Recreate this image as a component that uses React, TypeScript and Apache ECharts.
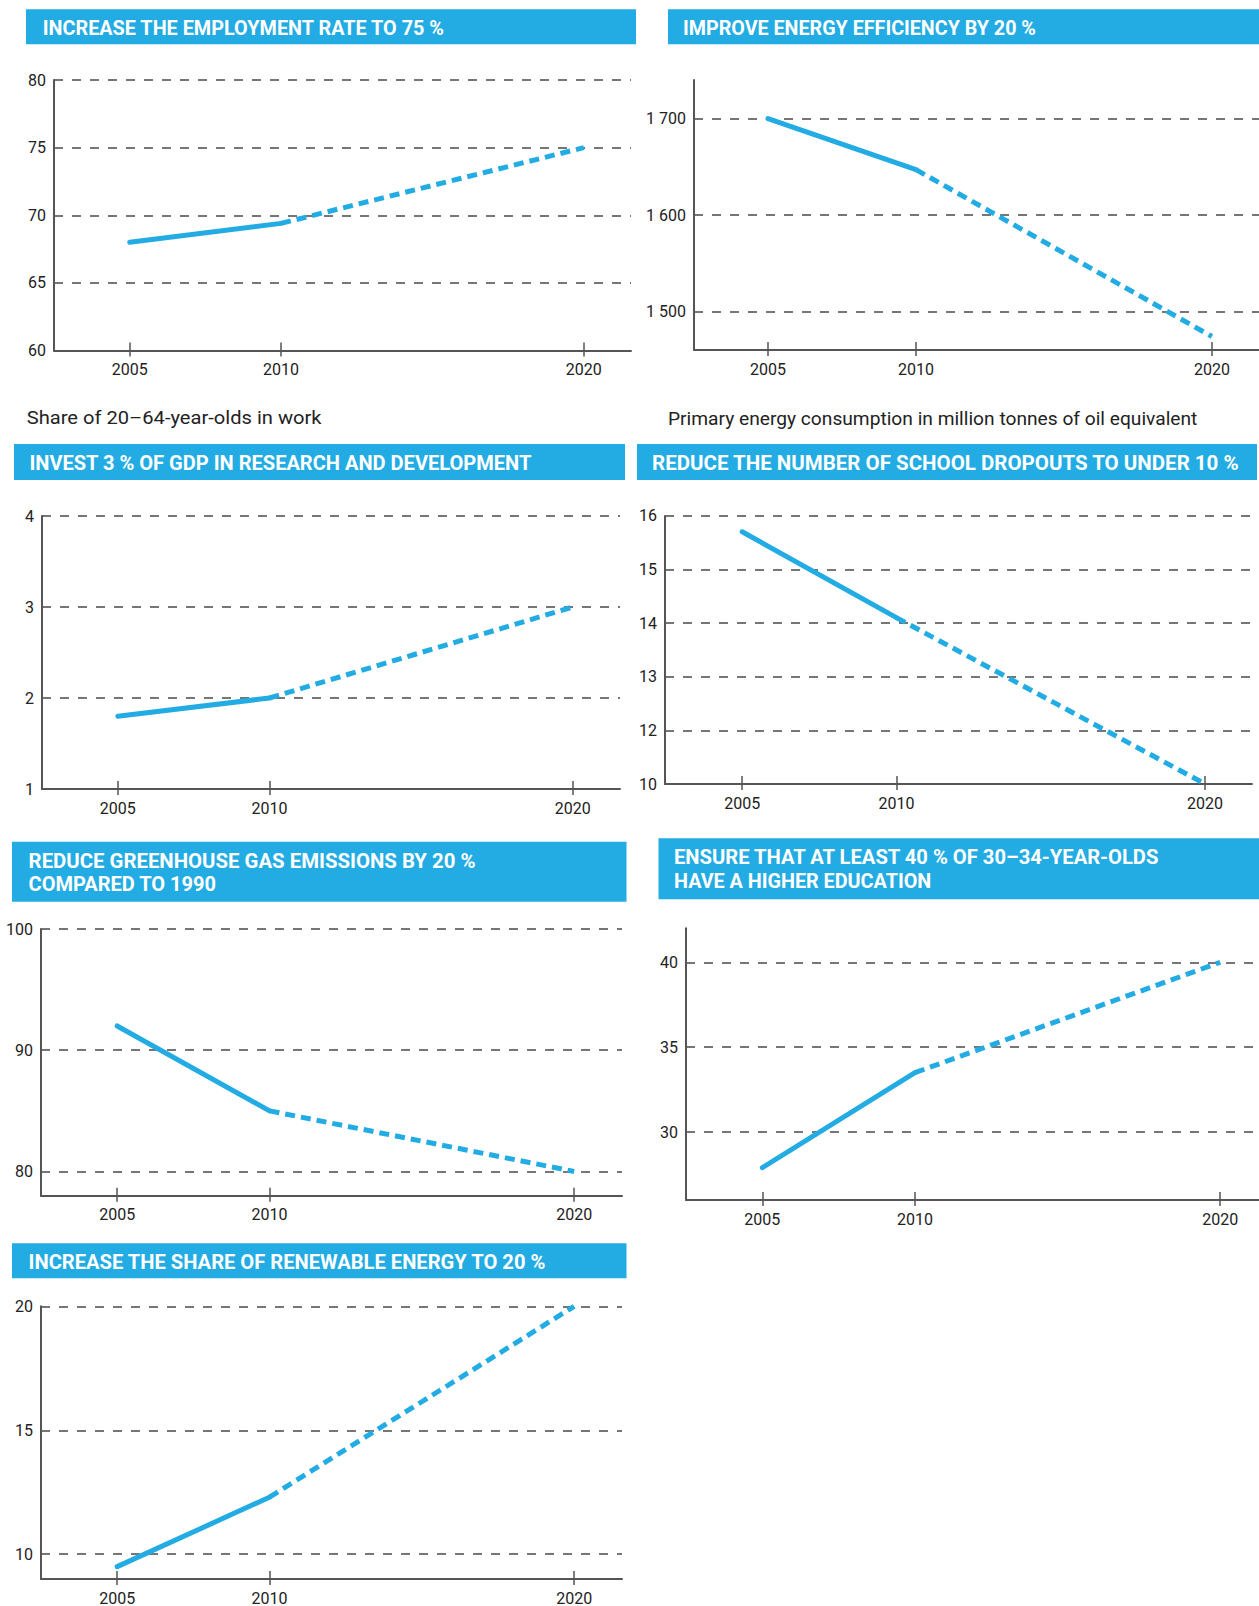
import React, { useEffect, useRef } from "react";
import * as echarts from "echarts";

// ---------- data ----------
const YEARS = [2005, 2010, 2020];
const X_TICKS = [2005, 2010, 2020];

const employmentRate = [68, 69.4, 75];
const energyConsumption = [1700, 1647, 1474];
const rndShare = [1.8, 2.0, 3.0];
const schoolDropouts = [15.7, 14.1, 10];
const ghgEmissions = [92, 85, 80];
const higherEducation = [27.9, 33.5, 40];
const renewableShare = [9.5, 12.3, 20];

// the dropouts axis in the original skips 11 (10 sits one step below 12)
const DROPOUT_AXIS_BREAK = [{ start: 10, end: 11, gap: 0 }];

const TITLE_EMPLOYMENT = ["INCREASE THE EMPLOYMENT RATE TO 75 %"];
const TITLE_ENERGY = ["IMPROVE ENERGY EFFICIENCY BY 20 %"];
const TITLE_RND = ["INVEST 3 % OF GDP IN RESEARCH AND DEVELOPMENT"];
const TITLE_DROPOUTS = ["REDUCE THE NUMBER OF SCHOOL DROPOUTS TO UNDER 10 %"];
const TITLE_GHG = ["REDUCE GREENHOUSE GAS EMISSIONS BY 20 %", "COMPARED TO 1990"];
const TITLE_EDUCATION = ["ENSURE THAT AT LEAST 40 % OF 30–34-YEAR-OLDS", "HAVE A HIGHER EDUCATION"];
const TITLE_RENEWABLE = ["INCREASE THE SHARE OF RENEWABLE ENERGY TO 20 %"];

const SUBTITLE_EMPLOYMENT = "Share of 20–64-year-olds in work";
const SUBTITLE_ENERGY = "Primary energy consumption in million tonnes of oil equivalent";

// ---------- styling / layout ----------
const BLUE = "#23ace3";
const AXIS_COLOR = "#555555";
const GRID_COLOR = "#767676";
const LABEL_COLOR = "#222222";
const FONT = "Roboto";

const thousands = (v: number) => String(v).replace(/\B(?=(\d{3})+(?!\d))/g, " ");
const plain = (v: number) => (Number.isInteger(v) ? String(v) : "");
const dropoutFmt = (v: number) => (Number.isInteger(v) && v !== 11 ? String(v) : "");

const PANELS: any[] = [
  {
    values: employmentRate, title: TITLE_EMPLOYMENT,
    grid: { left: 54, top: 80, width: 577, height: 270.5 }, xMax: 2021.56,
    y: { min: 60, max: 80, interval: 5 }, maxLine: true, minLabel: true, maxLabel: true,
    bar: { x: 26, y: 9.3, w: 610, h: 35 }, titleX: 42.7, titleY: [28], titleW: [403],
    sub: { text: SUBTITLE_EMPLOYMENT, x: 26.7, y: 418, w: 295 }, fmt: plain,
  },
  {
    values: energyConsumption, title: TITLE_ENERGY,
    grid: { left: 694, top: 80, width: 565, height: 270 }, xMax: 2021.59,
    y: { min: 1460, max: 1740, splitNumber: 3 }, maxLine: false, minLabel: false, maxLabel: false,
    bar: { x: 668, y: 9.3, w: 591, h: 35 }, titleX: 683, titleY: [28], titleW: [353],
    sub: { text: SUBTITLE_ENERGY, x: 668, y: 418.3, w: 530 }, fmt: thousands,
  },
  {
    values: rndShare, title: TITLE_RND,
    grid: { left: 42, top: 516, width: 578, height: 273 }, xMax: 2021.56,
    y: { min: 1, max: 4, interval: 1 }, maxLine: true, minLabel: true, maxLabel: true,
    bar: { x: 14, y: 444, w: 611, h: 36 }, titleX: 29.4, titleY: [463], titleW: [503], fmt: plain,
  },
  {
    values: schoolDropouts, title: TITLE_DROPOUTS,
    grid: { left: 665, top: 515.7, width: 587, height: 268.3 }, xMax: 2021.52,
    y: {
      min: 10, max: 16, interval: 1, breaks: DROPOUT_AXIS_BREAK,
      breakArea: { show: false }, breakLabelLayout: { moveOverlap: false },
    },
    maxLine: true, minLabel: true, maxLabel: true,
    bar: { x: 637, y: 444, w: 620, h: 36 }, titleX: 652, titleY: [463], titleW: [588], fmt: dropoutFmt,
  },
  {
    values: ghgEmissions, title: TITLE_GHG,
    grid: { left: 41, top: 929, width: 581, height: 266.7 }, xMax: 2021.57,
    y: { min: 78, max: 100, splitNumber: 2 }, maxLine: true, minLabel: false, maxLabel: true,
    bar: { x: 12, y: 841.7, w: 614.5, h: 60 }, titleX: 28.6, titleY: [861, 884], titleW: [447, 188], fmt: plain,
  },
  {
    values: higherEducation, title: TITLE_EDUCATION,
    grid: { left: 686, top: 928.3, width: 573, height: 271.7 }, xMax: 2021.27,
    y: { min: 26, max: 42, splitNumber: 3 }, maxLine: false, minLabel: false, maxLabel: false,
    bar: { x: 658.5, y: 838.3, w: 600.5, h: 61 }, titleX: 674, titleY: [857, 881], titleW: [487, 257.5], fmt: plain,
  },
  {
    values: renewableShare, title: TITLE_RENEWABLE,
    grid: { left: 41, top: 1306.3, width: 581, height: 273 }, xMax: 2021.57,
    y: { min: 9, max: 20, splitNumber: 2 }, maxLine: true, minLabel: false, maxLabel: true,
    bar: { x: 12, y: 1243.3, w: 614.5, h: 35 }, titleX: 28.6, titleY: [1262.5], titleW: [518], fmt: plain,
  },
];

function fitScale(text: string, font: string, target: number): number {
  const ctx = document.createElement("canvas").getContext("2d");
  if (!ctx) return 1;
  ctx.font = font;
  const w = ctx.measureText(text).width;
  return w > 0 ? target / w : 1;
}

function buildOption() {
  const grid: any[] = [];
  const xAxis: any[] = [];
  const yAxis: any[] = [];
  const series: any[] = [];
  const graphic: any[] = [];

  PANELS.forEach((p, i) => {
    grid.push({ ...p.grid, containLabel: false });

    const tickStyle = { color: AXIS_COLOR, width: 1.5 };
    xAxis.push({
      type: "value", gridIndex: i, min: 2002.5, max: p.xMax, position: "bottom",
      axisLine: { show: true, onZero: false, lineStyle: { color: AXIS_COLOR, width: 2 } },
      axisTick: { show: true, customValues: X_TICKS, length: 6, lineStyle: tickStyle },
      axisLabel: {
        show: true, customValues: X_TICKS, color: LABEL_COLOR, fontSize: 16, fontFamily: FONT, margin: 11,
        formatter: (v: number) => String(v),
      },
      splitLine: { show: false },
    });
    xAxis.push({
      type: "value", gridIndex: i, min: 2002.5, max: p.xMax, position: "bottom",
      axisLine: { show: false },
      axisTick: { show: true, inside: true, customValues: X_TICKS, length: 8, lineStyle: tickStyle },
      axisLabel: { show: false },
      splitLine: { show: false },
    });

    yAxis.push({
      type: "value", gridIndex: i, ...p.y,
      axisLine: { show: true, onZero: false, lineStyle: { color: AXIS_COLOR, width: 2 } },
      axisTick: { show: false },
      axisLabel: {
        color: LABEL_COLOR, fontSize: 16, fontFamily: FONT, margin: 8,
        showMinLabel: p.minLabel, showMaxLabel: p.maxLabel, formatter: p.fmt,
      },
      splitLine: {
        show: true, showMinLine: false, showMaxLine: p.maxLine,
        lineStyle: { type: [9, 9], color: GRID_COLOR, width: 2 },
      },
      z: 1,
    });

    const solid = YEARS.slice(0, 2).map((yr, k) => [yr, p.values[k]]);
    const dashed = YEARS.slice(1, 3).map((yr, k) => [yr, p.values[k + 1]]);
    series.push({
      type: "line", xAxisIndex: 2 * i, yAxisIndex: i, data: solid, symbol: "none", clip: false,
      silent: true, z: 5, lineStyle: { color: BLUE, width: 5, cap: "round" },
    });
    series.push({
      type: "line", xAxisIndex: 2 * i, yAxisIndex: i, data: dashed, symbol: "none", clip: false,
      silent: true, z: 5, lineStyle: { color: BLUE, width: 5, type: [10, 6] },
    });

    graphic.push({
      type: "rect", x: p.bar.x, y: p.bar.y, shape: { width: p.bar.w, height: p.bar.h },
      style: { fill: BLUE }, silent: true,
    });
    const titleFont = `bold 20px ${FONT}`;
    p.title.forEach((line: string, k: number) => {
      graphic.push({
        type: "text", x: p.titleX, y: p.titleY[k], scaleX: fitScale(line, titleFont, p.titleW[k]),
        style: { text: line, fill: "#ffffff", fontSize: 20, fontWeight: "bold", fontFamily: FONT, align: "left", verticalAlign: "middle" },
        silent: true,
      });
    });
    if (p.sub) {
      const subFont = `19px ${FONT}`;
      graphic.push({
        type: "text", x: p.sub.x, y: p.sub.y, scaleX: fitScale(p.sub.text, subFont, p.sub.w),
        style: { text: p.sub.text, fill: LABEL_COLOR, fontSize: 19, fontFamily: FONT, align: "left", verticalAlign: "middle" },
        silent: true,
      });
    }
  });

  return { animation: false, backgroundColor: "#ffffff", grid, xAxis, yAxis, series, graphic };
}

export default function App() {
  const ref = useRef<HTMLDivElement | null>(null);
  useEffect(() => {
    document.body.style.margin = "0";
    if (!ref.current) return;
    const chart = echarts.init(ref.current, undefined, { renderer: "svg" });
    chart.setOption(buildOption() as any);
    return () => chart.dispose();
  }, []);
  return <div ref={ref} style={{ width: 1259, height: 1606 }} />;
}
